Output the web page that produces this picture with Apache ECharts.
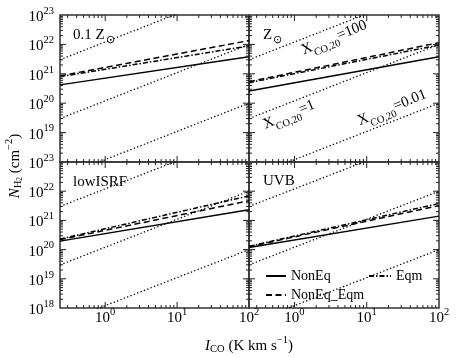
<!DOCTYPE html>
<html><head><meta charset="utf-8">
<script src="https://cdn.jsdelivr.net/npm/echarts@6/dist/echarts.min.js"></script>
<style>html,body{margin:0;padding:0;background:#fff}#c{width:458px;height:358px}</style>
</head><body><div id="c"></div>
<script>
// ---- data ----
const panelNames = ['0.1 Z', 'Z', 'lowISRF', 'UVB'];
const panelSun = [true, true, false, false];
const icoEnds = [0.235, 100];                       // I_CO at left / right edge
const nonEq    = [[4.2e20, 3.8e21], [2.6e20, 3.8e21], [1.95e20, 2.3e21], [1.17e20, 1.4e21]];
const nonEqEqm = [[8.5e20, 1.35e22], [5.4e20, 1.15e22], [2.2e20, 4.7e21], [1.26e20, 3.2e21]];
const eqm      = [[8.0e20, 8.9e21], [5.0e20, 9.5e21], [2.3e20, 6.9e21], [1.3e20, 3.8e21]];
const xcoLabels = ['100', '1', '0.01'];
const xcoLeft  = [3e21, 3e19, 3e17];
const xcoRight = [1e24, 1e22, 1e20];
const xMajor = [1, 10, 100];
const yMajor = [1e18, 1e19, 1e20, 1e21, 1e22, 1e23];
const minorMult = [2, 3, 4, 5, 6, 7, 8, 9];
const xMin = 0.235, xMax = 100, yMin = 1e18, yMax = 1e23;

const FF = 'Liberation Serif';
const grids = [
  {left: 60, top: 15, width: 189, height: 147},
  {left: 249, top: 15, width: 190, height: 147},
  {left: 60, top: 162, width: 189, height: 146},
  {left: 249, top: 162, width: 190, height: 146}
];
const powRich = {
  b: {fontFamily: FF, fontSize: 15, color: '#000', padding: [4, 0, 0, 0], verticalAlign: 'top'},
  s: {fontFamily: FF, fontSize: 10.5, color: '#000', verticalAlign: 'top'}
};
function powFmt(hide) {
  return function (v) {
    const e = Math.round(Math.log10(v));
    if (Math.abs(Math.log10(v) - e) > 1e-6) return '';
    if (hide && hide.indexOf(e) >= 0) return '';
    return '{b|10}{s|' + e + '}';
  };
}
const xAxes = [], yAxes = [], series = [];
for (let i = 0; i < 4; i++) {
  xAxes.push({
    type: 'log', gridIndex: i, min: xMin, max: xMax, logBase: 10,
    axisLine: {show: false}, axisTick: {show: false}, splitLine: {show: false}, minorTick: {show: false},
    axisLabel: {show: i >= 2, formatter: powFmt(), rich: powRich, margin: -1, showMinLabel: true, showMaxLabel: true, hideOverlap: false}
  });
  yAxes.push({
    type: 'log', gridIndex: i, min: yMin, max: yMax, logBase: 10,
    axisLine: {show: false}, axisTick: {show: false}, splitLine: {show: false}, minorTick: {show: false},
    axisLabel: {show: i % 2 === 0, formatter: powFmt(i < 2 ? [18] : []), rich: powRich, margin: 6, showMinLabel: true, showMaxLabel: true, hideOverlap: false}
  });
  const mk = (name, vals, type, w) => ({
    type: 'line', name: name, xAxisIndex: i, yAxisIndex: i, symbol: 'none', silent: true, animation: false,
    data: icoEnds.map((x, k) => [x, vals[k]]), lineStyle: {color: '#000', width: w, type: type}, itemStyle: {color: '#000'}, z: 3, clip: true
  });
  for (let j = 0; j < xcoLabels.length; j++) {
    series.push(mk(undefined, [xcoLeft[j], xcoRight[j]], [1.3, 2.3], 1.3));
  }
  series.push(mk('NonEq', nonEq[i], 'solid', 1.5));
  series.push(mk('NonEq_Eqm', nonEqEqm[i], [6, 3.5], 1.5));
  series.push(mk('Eqm', eqm[i], [5, 2, 1.5, 2], 1.5));
  // tick marks on all four sides (log minor ticks)
  series.push({
    type: 'custom', xAxisIndex: i, yAxisIndex: i, data: [[1, 1e20]], clip: false, silent: true, z: 5, animation: false,
    renderItem: function (params, api) {
      const lb = api.coord([xMin, yMin]), rt = api.coord([xMax, yMax]);
      const L = lb[0], B = lb[1], R = rt[0], T = rt[1];
      const kids = [];
      const add = (x1, y1, x2, y2) => kids.push({type: 'line', shape: {x1, y1, x2, y2}, style: {stroke: '#222', lineWidth: 1}});
      const xs = [], ys = [];
      xMajor.forEach(v => xs.push([v, 6]));
      [-1, 0, 1].forEach(k => minorMult.forEach(m => xs.push([m * Math.pow(10, k), 3])));
      yMajor.forEach(v => ys.push([v, 6]));
      [18, 19, 20, 21, 22].forEach(k => minorMult.forEach(m => ys.push([m * Math.pow(10, k), 3])));
      xs.forEach(([v, len]) => { const p = api.coord([v, yMin])[0]; if (p > L + 1 && p < R - 1) { add(p, B, p, B - len); add(p, T, p, T + len); } });
      ys.forEach(([v, len]) => { const p = api.coord([xMin, v])[1]; if (p < B - 1 && p > T + 1) { add(L, p, L + len, p); add(R, p, R - len, p); } });
      return {type: 'group', children: kids};
    }
  });
}

const txt = (t, fs, extra) => Object.assign({fontFamily: FF, fontSize: fs, fill: '#000', verticalAlign: 'top'}, extra || {});
const graphics = [];
// panel labels
const panelPos = [[73, 28], [263, 28], [73, 175], [263, 174]];
for (let i = 0; i < 4; i++) {
  graphics.push({
    type: 'text', x: panelPos[i][0], y: panelPos[i][1], silent: true,
    style: {
      text: '{m|' + panelNames[i] + '}' + (panelSun[i] ? '{s|\u2299}' : ''),
      rich: {m: txt('', 15), s: txt('', 11, {padding: [7, 0, 0, 1]})},
      align: 'left', verticalAlign: 'top', fill: '#000'
    }
  });
}
// X_CO,20 labels
const xcoPos = [[335, 40], [290, 117], [393, 110]];
for (let j = 0; j < 3; j++) {
  graphics.push({
    type: 'text', x: xcoPos[j][0], y: xcoPos[j][1], rotation: 0.39, silent: true,
    style: {
      text: '{m|X}{s|CO,20}{m|=' + xcoLabels[j] + '}',
      rich: {m: txt('', 15), s: txt('', 10.5, {padding: [9, 0, 0, 0]})},
      align: 'center', verticalAlign: 'middle', fill: '#000'
    }
  });
}
// axis titles
graphics.push({
  type: 'text', x: 249, y: 345, silent: true,
  style: {
    text: '{i|I}{s|CO}{m| (K km s}{p|\u22121}{m|)}',
    rich: {i: txt('', 15, {fontStyle: 'italic', padding: [4, 0, 0, 0]}), m: txt('', 15, {padding: [4, 0, 0, 0]}),
           s: txt('', 10.5, {padding: [9, 0, 0, 0]}), p: txt('', 10.5)},
    align: 'center', verticalAlign: 'middle', fill: '#000'
  }
});
graphics.push({
  type: 'text', x: 14, y: 166, rotation: Math.PI / 2, silent: true,
  style: {
    text: '{i|N}{s|H}{t|2}{m| (cm}{p|\u22122}{m|)}',
    rich: {i: txt('', 15, {fontStyle: 'italic', padding: [4, 0, 0, 0]}), m: txt('', 15, {padding: [4, 0, 0, 0]}),
           s: txt('', 10.5, {padding: [9, 0, 0, 0]}), t: txt('', 7.5, {padding: [13, 0, 0, 0]}), p: txt('', 10.5)},
    align: 'center', verticalAlign: 'middle', fill: '#000'
  }
});

const legendBase = {
  orient: 'vertical', itemHeight: 10, itemGap: 5, selectedMode: false, padding: 0,
  itemStyle: {opacity: 0, borderWidth: 0},
  textStyle: {fontFamily: FF, fontSize: 14, color: '#000'}
};
const chart = echarts.init(document.getElementById('c'), null, {renderer: 'canvas'});
chart.setOption({
  animation: false,
  backgroundColor: '#fff',
  grid: grids.map(g => Object.assign({show: true, borderColor: '#333', borderWidth: 1.5, backgroundColor: 'transparent', containLabel: false, outerBoundsMode: 'none'}, g)),
  xAxis: xAxes, yAxis: yAxes, series: series,
  legend: [
    Object.assign({}, legendBase, {data: ['NonEq', 'NonEq_Eqm'], left: 265, top: 269, itemWidth: 20}),
    Object.assign({}, legendBase, {data: ['Eqm'], left: 368, top: 269, itemWidth: 22})
  ],
  graphic: graphics
});
</script></body></html>
